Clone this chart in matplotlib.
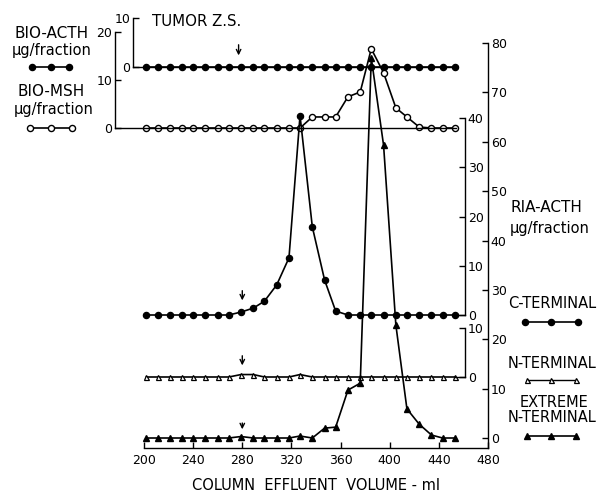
import matplotlib
matplotlib.use("Agg")
import matplotlib.pyplot as plt
from matplotlib.lines import Line2D

# ---------------- data ----------------
volume_ml = [202, 211, 221, 231, 240, 250, 260, 269, 279, 289, 298, 308, 318, 327,
             337, 347, 356, 366, 376, 385, 395, 405, 414, 424, 434, 443, 453]
bio_acth = [0] * 27
bio_msh = [0, 0, 0, 0, 0, 0, 0, 0, 0, 0, 0, 0, 0, 0,
           2.3, 2.3, 2.3, 6.5, 7.5, 16.5, 11.5, 4.2, 2.3, 0.2, 0, 0, 0]
c_terminal = [0, 0, 0, 0, 0, 0, 0, 0, 0.6, 1.4, 2.8, 6.1, 11.6, 40.5,
              17.9, 7.1, 0.8, 0, 0, 0, 0, 0, 0, 0, 0, 0, 0]
n_terminal = [0, 0, 0, 0, 0, 0, 0, 0, 0.5, 0.5, 0, 0, 0, 0.5,
              0, 0, 0, 0, 0, 0, 0, 0, 0, 0, 0, 0, 0]
extreme_n = [0, 0, 0, 0, 0, 0, 0, 0, 0.3, 0, 0, 0, 0, 0.4,
             0, 2.0, 2.2, 9.7, 11.1, 77.0, 59.3, 22.9, 5.9, 2.8, 0.6, 0, 0]
x_ticks = [200, 240, 280, 320, 360, 400, 440, 480]
outer_ticks = [0, 10, 20, 30, 40, 50, 60, 70, 80]
c_ticks = [0, 10, 20, 30, 40]
n_ticks = [0, 10]
acth_ticks = [0, 10]
msh_ticks = [0, 10, 20]
arrow_ml_top = 277
arrow_ml = 280

# ---------------- layout helpers ----------------
W, H = 605, 494
fig = plt.figure(figsize=(W / 100, H / 100), dpi=100)
plt.rcParams['font.family'] = ['DejaVu Sans']

PX0, ML0, SCALE = 144, 200, (488 - 144) / 280.0


def ml(px):
    return ML0 + (px - PX0) / SCALE


def add_ax(x0, x1, ytop, ybot, ylo, yhi):
    ax = fig.add_axes([x0 / W, 1 - ybot / H, (x1 - x0) / W, (ybot - ytop) / H])
    ax.set_xlim(ml(x0), ml(x1))
    ax.set_ylim(ylo, yhi)
    ax.patch.set_alpha(0)
    for s in ax.spines.values():
        s.set_linewidth(1.0)
    ax.set_xticks([])
    return ax


LW = 1.2
MS = 4.4
tick_kw = dict(direction='in', length=4, width=1.0, labelsize=9, pad=2)

# Panel A: BIO-ACTH (tumor)
axA = add_ax(133, 456, 18, 67, 0, 10)
axA.spines['top'].set_visible(False)
axA.spines['right'].set_visible(False)
axA.set_yticks(acth_ticks)
axA.tick_params(axis='y', **tick_kw)
axA.plot(volume_ml, bio_acth, '-o', color='black', lw=LW, ms=MS, clip_on=False)
axA.annotate('', xy=(arrow_ml_top, 1.8), xytext=(arrow_ml_top, 5.1),
             arrowprops=dict(arrowstyle='->', lw=1.0, color='black',
                             mutation_scale=8))

# Panel B: BIO-MSH
axB = add_ax(115, 456, 32, 128, 0, 20)
axB.spines['top'].set_visible(False)
axB.spines['right'].set_visible(False)
axB.set_yticks(msh_ticks)
axB.tick_params(axis='y', **tick_kw)
axB.plot(volume_ml, bio_msh, '-o', color='black', lw=LW, ms=MS,
         mfc='white', mew=1.0, clip_on=False)

# Panel C: C-terminal RIA
axC = add_ax(140, 465, 118, 315, 0, 40)
axC.spines['top'].set_visible(False)
axC.spines['left'].set_visible(False)
axC.spines['bottom'].set_bounds(volume_ml[-1], ml(465))
axC.yaxis.tick_right()
axC.set_yticks(c_ticks)
axC.tick_params(axis='y', **tick_kw)
axC.plot(volume_ml, c_terminal, '-o', color='black', lw=LW, ms=MS, clip_on=False)
axC.annotate('', xy=(arrow_ml, 2.4), xytext=(arrow_ml, 5.5),
             arrowprops=dict(arrowstyle='->', lw=1.0, color='black',
                             mutation_scale=8))

# Panel D: N-terminal RIA
axD = add_ax(140, 465, 328, 377, 0, 10)
axD.spines['top'].set_visible(False)
axD.spines['left'].set_visible(False)
axD.spines['bottom'].set_bounds(volume_ml[-1], ml(465))
axD.yaxis.tick_right()
axD.set_yticks(n_ticks)
axD.tick_params(axis='y', **tick_kw)
axD.plot(volume_ml, n_terminal, '-^', color='black', lw=LW, ms=3.6,
         mfc='white', mew=0.9, clip_on=False)
axD.annotate('', xy=(arrow_ml, 1.8), xytext=(arrow_ml, 4.9),
             arrowprops=dict(arrowstyle='->', lw=1.0, color='black',
                             mutation_scale=8))

# Panel E: extreme N-terminal + common x axis + outer scale
axE = add_ax(144, 488, 43, 448, -10 / 4.94, 80)
axE.spines['top'].set_visible(False)
axE.spines['left'].set_visible(False)
axE.yaxis.tick_right()
axE.set_yticks(outer_ticks)
axE.set_xticks(x_ticks)
axE.tick_params(axis='both', **tick_kw)
axE.tick_params(axis='x', pad=4)
axE.plot(volume_ml, extreme_n, '-^', color='black', lw=LW, ms=3.8, clip_on=False)
axE.annotate('', xy=(arrow_ml, 1.2), xytext=(arrow_ml, 3.6),
             arrowprops=dict(arrowstyle='->', lw=1.0, color='black',
                             mutation_scale=8))
axE.set_xlabel('COLUMN  EFFLUENT  VOLUME - ml', fontsize=10.5, labelpad=8)

# ---------------- annotation overlay (legends / labels) ----------------
ov = fig.add_axes([0, 0, 1, 1])
ov.set_xlim(0, W)
ov.set_ylim(H, 0)
ov.axis('off')
ov.patch.set_alpha(0)

tkw = dict(fontsize=10.5, color='black')
ov.text(52, 34, 'BIO-ACTH', ha='center', va='center', fontsize=11)
ov.text(52, 50, 'μg/fraction', ha='center', va='center', **tkw)
ov.add_line(Line2D([30, 70], [67, 67], color='black', lw=LW))
ov.add_line(Line2D([32, 51, 69], [67, 67, 67], ls='none', marker='o',
                   color='black', ms=MS))
ov.text(51, 92, 'BIO-MSH', ha='center', va='center', fontsize=11)
ov.text(54, 109, 'μg/fraction', ha='center', va='center', **tkw)
ov.add_line(Line2D([30, 72], [128, 128], color='black', lw=LW))
ov.add_line(Line2D([30, 51, 72], [128, 128, 128], ls='none', marker='o',
                   color='black', mfc='white', ms=MS, mew=1.0))

ov.text(152, 22, 'TUMOR Z.S.', ha='left', va='center', fontsize=10.8)

ov.text(510, 207, 'RIA-ACTH', ha='left', va='center', fontsize=11)
ov.text(510, 228, 'μg/fraction', ha='left', va='center', **tkw)
ov.text(508, 303, 'C-TERMINAL', ha='left', va='center', **tkw)
ov.add_line(Line2D([525, 578], [322, 322], color='black', lw=LW))
ov.add_line(Line2D([525, 551, 578], [322] * 3, ls='none', marker='o',
                   color='black', ms=MS))
ov.text(508, 363, 'N-TERMINAL', ha='left', va='center', **tkw)
ov.add_line(Line2D([527, 576], [380, 380], color='black', lw=1.0))
ov.add_line(Line2D([527, 551, 576], [380] * 3, ls='none', marker='^',
                   color='black', mfc='white', ms=3.6, mew=0.9))
ov.text(554, 402, 'EXTREME', ha='center', va='center', **tkw)
ov.text(508, 417, 'N-TERMINAL', ha='left', va='center', **tkw)
ov.add_line(Line2D([527, 576], [436, 436], color='black', lw=LW))
ov.add_line(Line2D([527, 551, 576], [436] * 3, ls='none', marker='^',
                   color='black', ms=3.8))

fig.savefig('out.png', dpi=100)
